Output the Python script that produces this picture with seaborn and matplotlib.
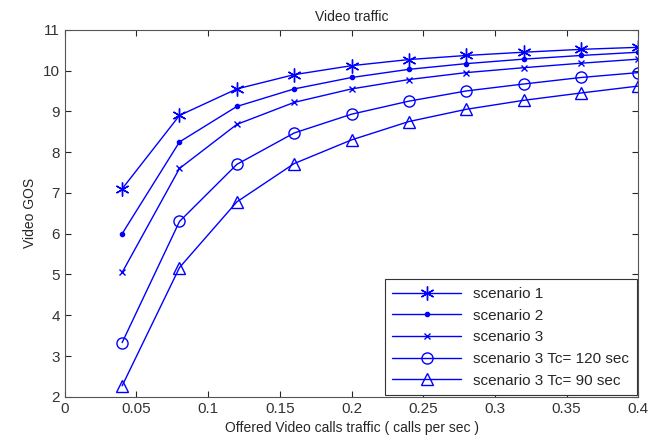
import pandas as pd
import seaborn as sns
from matplotlib import pyplot as plt

# 数据
calls = [0.04, 0.08, 0.12, 0.16, 0.20, 0.24, 0.28, 0.32, 0.36, 0.40]
s1 = [7.10, 8.90, 9.55, 9.90, 10.12, 10.27, 10.37, 10.45, 10.52, 10.57]
s2 = [6.00, 8.25, 9.12, 9.55, 9.83, 10.03, 10.17, 10.28, 10.37, 10.45]
s3 = [5.05, 7.60, 8.68, 9.22, 9.55, 9.78, 9.95, 10.07, 10.18, 10.28]
s3_tc120 = [3.33, 6.30, 7.70, 8.47, 8.93, 9.25, 9.50, 9.67, 9.83, 9.95]
s3_tc90 = [2.27, 5.17, 6.78, 7.72, 8.30, 8.75, 9.05, 9.27, 9.45, 9.62]

names = ['scenario 1', 'scenario 2', 'scenario 3',
         'scenario 3 Tc= 120 sec', 'scenario 3 Tc= 90 sec']
series = [s1, s2, s3, s3_tc120, s3_tc90]
# matlab风格的标记: 星号, 点, 叉, 圆, 三角
markers = [(6, 2, 0), '.', 'x', 'o', '^']
msizes = [10, 6, 5, 8, 8]

sns.set_style('ticks')
plt.rcParams['font.family'] = ['Liberation Sans', 'DejaVu Sans']
plt.rcParams['xtick.direction'] = 'in'
plt.rcParams['ytick.direction'] = 'in'

fig = plt.figure(figsize=(6.48, 4.38), dpi=100)
ax = fig.add_axes([0.1, 0.094, 0.885, 0.838])

for name, vals, m, ms in zip(names, series, markers, msizes):
    df = pd.DataFrame({'x': calls, 'y': vals})
    hollow = m in ('o', '^')
    sns.lineplot(x='x', y='y', data=df, ax=ax, color='blue', marker=m,
                 markersize=ms, markerfacecolor='none' if hollow else 'blue',
                 markeredgecolor='blue', markeredgewidth=1, linewidth=1, label=name)

ax.set_xlim(0, 0.4)
ax.set_ylim(2, 11)
ax.set_xticks([0, 0.05, 0.1, 0.15, 0.2, 0.25, 0.3, 0.35, 0.4])
ax.set_xticklabels(['0', '0.05', '0.1', '0.15', '0.2', '0.25', '0.3', '0.35', '0.4'])
ax.set_yticks(range(2, 12))
ax.tick_params(top=True, right=True, labelsize=11, length=4, labelcolor='#333333')
for sp in ax.spines.values():
    sp.set_color('#555555')
ax.set_title('Video traffic', fontsize=10)
ax.set_xlabel('Offered Video calls traffic ( calls per sec )', fontsize=10)
ax.set_ylabel('Video GOS', fontsize=10)
leg = ax.legend(loc='lower right', fontsize=11, frameon=True, fancybox=False,
                edgecolor='#333333', framealpha=1, borderaxespad=0.1,
                handlelength=4.5, labelspacing=0.5, borderpad=0.5)
leg.get_frame().set_linewidth(0.8)

plt.savefig('out.png', dpi=100)
